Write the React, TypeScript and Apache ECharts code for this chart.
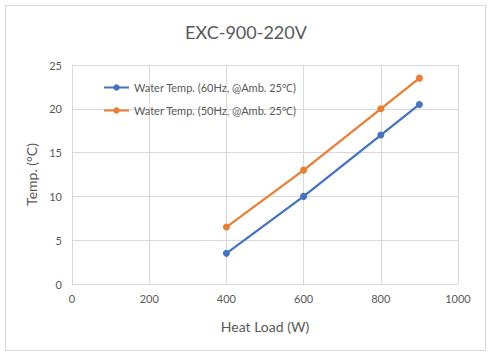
import React, { useEffect, useRef } from "react";
import * as echarts from "echarts";

const title = "EXC-900-220V";
const xName = "Heat Load (W)";
const yName = "Temp. (°C)";
const heatLoad = [400, 600, 800, 900];
const seriesNames = ["Water Temp. (60Hz, @Amb. 25℃)", "Water Temp. (50Hz, @Amb. 25℃)"];
const temp60 = [3.5, 10, 17, 20.5];
const temp50 = [6.5, 13, 20, 23.5];
const colors = ["#4472C4", "#ED7D31"];

const FONT = "Lato, 'Noto Sans', sans-serif";

export default function App() {
  const ref = useRef<HTMLDivElement>(null);
  useEffect(() => {
    if (!ref.current) return;
    const chart = echarts.init(ref.current, undefined, { renderer: "svg" });
    const mk = (vals: number[]) => heatLoad.map((x, i) => [x, vals[i]]);
    chart.setOption({
      animation: false,
      backgroundColor: "#ffffff",
      title: {
        text: title,
        left: "center",
        top: 18,
        textStyle: { fontFamily: FONT, fontSize: 18, fontWeight: "normal", color: "#595959" },
      },
      graphic: [
        {
          type: "rect",
          shape: { x: 5.5, y: 5.5, width: 480, height: 345 },
          style: { fill: "none", stroke: "#d9d9d9", lineWidth: 1 },
          silent: true,
        },
      ],
      legend: {
        orient: "vertical",
        left: 103,
        top: 82,
        padding: 0,
        itemWidth: 25,
        itemHeight: 8,
        itemGap: 12,
        textStyle: { fontFamily: FONT, fontSize: 11, color: "#595959" },
        data: seriesNames,
      },
      grid: { left: 72, right: 34, top: 65, bottom: 74 },
      xAxis: {
        type: "value",
        min: 0,
        max: 1000,
        interval: 200,
        name: xName,
        nameLocation: "middle",
        nameGap: 35,
        nameTextStyle: { fontFamily: FONT, fontSize: 14, color: "#595959" },
        axisLine: { lineStyle: { color: "#d9d9d9" } },
        axisTick: { show: false },
        axisLabel: {
          fontFamily: FONT,
          fontSize: 11,
          color: "#595959",
          margin: 9,
          formatter: (v: number) => String(v),
        },
        splitLine: { show: true, lineStyle: { color: "#d9d9d9" } },
      },
      yAxis: {
        type: "value",
        min: 0,
        max: 25,
        interval: 5,
        name: yName,
        nameLocation: "middle",
        nameGap: 30,
        nameTextStyle: { fontFamily: FONT, fontSize: 14, color: "#595959" },
        axisLine: { show: true, lineStyle: { color: "#d9d9d9" } },
        axisTick: { show: false },
        axisLabel: { fontFamily: FONT, fontSize: 11, color: "#595959", margin: 10 },
        splitLine: { show: true, lineStyle: { color: "#d9d9d9" } },
      },
      series: [
        {
          name: seriesNames[0],
          type: "line",
          data: mk(temp60),
          color: colors[0],
          symbol: "circle",
          symbolSize: 7,
          lineStyle: { width: 2.25, color: colors[0] },
          itemStyle: { color: colors[0] },
        },
        {
          name: seriesNames[1],
          type: "line",
          data: mk(temp50),
          color: colors[1],
          symbol: "circle",
          symbolSize: 7,
          lineStyle: { width: 2.25, color: colors[1] },
          itemStyle: { color: colors[1] },
        },
      ],
    });
    return () => chart.dispose();
  }, []);
  return (
    <div
      ref={ref}
      style={{ position: "absolute", left: 0, top: 0, width: 492, height: 358 }}
    />
  );
}
